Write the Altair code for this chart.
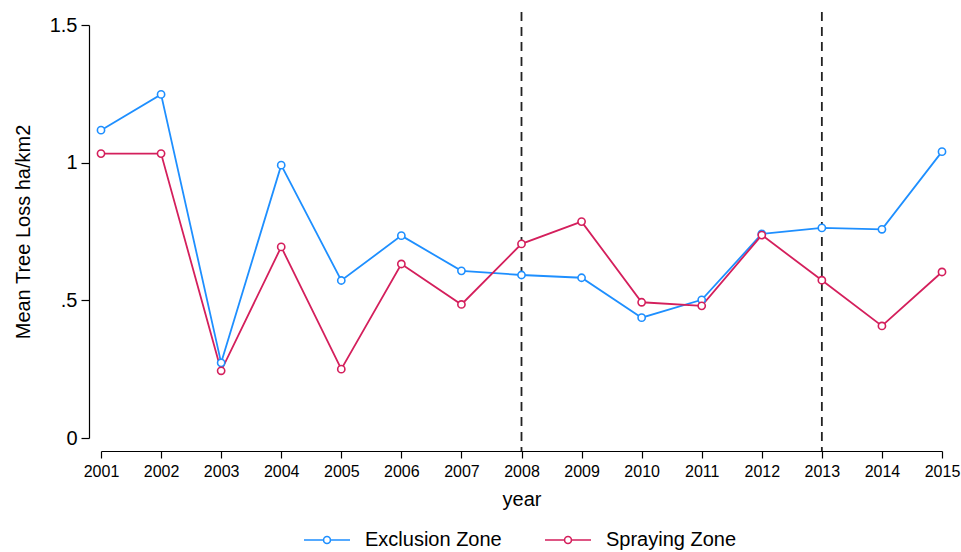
import altair as alt
import pandas as pd

years = list(range(2001, 2016))
exclusion_zone = [1.118, 1.248, 0.273, 0.991, 0.572, 0.735, 0.607, 0.592,
                  0.582, 0.437, 0.502, 0.741, 0.763, 0.758, 1.040]
spraying_zone = [1.033, 1.033, 0.244, 0.694, 0.250, 0.632, 0.485, 0.705,
                 0.786, 0.493, 0.480, 0.737, 0.573, 0.407, 0.603]
series_names = ["Exclusion Zone", "Spraying Zone"]
series_colors = ["#1E8FFF", "#D41F5C"]
event_years = [2008, 2013]
y_ticks = [0, 0.5, 1, 1.5]

rows = []
for name, vals in zip(series_names, [exclusion_zone, spraying_zone]):
    for yr, v in zip(years, vals):
        rows.append({"year": yr, "loss": v, "zone": name})
df = pd.DataFrame(rows)
events = pd.DataFrame({"year": event_years})

FONT = "Liberation Sans"
W, H = 841, 413

x_scale = alt.Scale(domain=[2001, 2015], nice=False, zero=False)
y_scale = alt.Scale(domain=[0, 1.5], nice=False)

# legend glyph: a short line with an open circle in the middle
glyph = ("M-1,0L-0.15,0M0.15,0L1,0"
         "M0.15,0A0.15,0.15,0,1,1,-0.15,0A0.15,0.15,0,1,1,0.15,0Z")

lines = alt.Chart(df).mark_line(
    strokeWidth=1.8,
    point=alt.OverlayMarkDef(filled=False, fill="white", size=52, strokeWidth=1.6),
).encode(
    x=alt.X("year:Q", scale=x_scale,
            axis=alt.Axis(values=years, format="d", title="year", offset=13,
                          tickSize=7, labelPadding=5, grid=False, labelFlush=False,
                          labelFontSize=16, titleFontSize=20, titlePadding=10,
                          titleFontWeight="normal")),
    y=alt.Y("loss:Q", scale=y_scale,
            axis=alt.Axis(values=y_ticks, format=".1~f",
                          labelExpr="datum.value == 0.5 ? '.5' : datum.label",
                          title="Mean Tree Loss ha/km2", offset=12,
                          tickSize=8, labelPadding=4, grid=False, labelFlush=False,
                          labelFontSize=20, titleFontSize=20, titlePadding=16,
                          titleFontWeight="normal")),
    color=alt.Color("zone:N",
                    scale=alt.Scale(domain=series_names, range=series_colors),
                    legend=alt.Legend(title=None, orient="none", direction="horizontal",
                                      legendX=202, legendY=491,
                                      symbolType=glyph, symbolSize=2116,
                                      symbolStrokeWidth=1.6, symbolFillColor="white",
                                      labelFontSize=20, labelOffset=14,
                                      columnPadding=39, labelLimit=400)),
)

rules = alt.Chart(events).mark_rule(
    color="#222222", strokeWidth=1.8, strokeDash=[9, 6]
).encode(
    x=alt.X("year:Q", scale=x_scale),
    y=alt.value(-13),
    y2=alt.value(H + 13),
)

chart = alt.layer(rules, lines).properties(
    width=W, height=H,
    autosize=alt.AutoSizeParams(type="none"),
    padding={"left": 101, "top": 25, "right": 19, "bottom": 114},
    background="white",
).configure_view(
    stroke=None
).configure_axis(
    domainColor="black", tickColor="black", labelColor="black", titleColor="black",
    domainWidth=1.2, tickWidth=1.2, labelFont=FONT, titleFont=FONT,
).configure_legend(
    labelFont=FONT, labelColor="black"
)

chart.save("out.html", embed_options={"renderer": "svg", "actions": False})
